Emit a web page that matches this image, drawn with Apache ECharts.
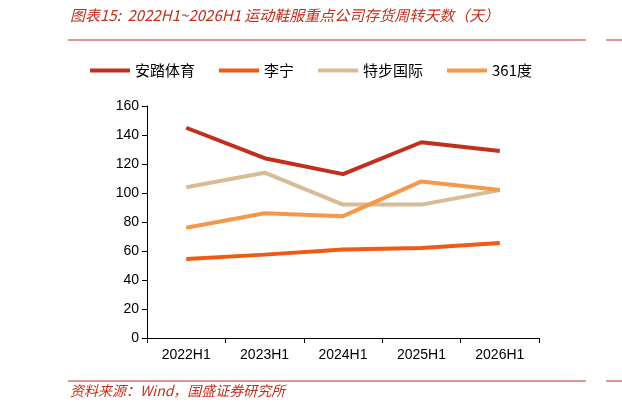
<!DOCTYPE html><html><head><meta charset="utf-8">
<script src="https://cdn.jsdelivr.net/npm/echarts@6/dist/echarts.min.js"></script>
<style>body{margin:0}#c{width:622px;height:413px}</style></head><body><div id="c"></div>
<script>
const categories=['2022H1','2023H1','2024H1','2025H1','2026H1'];
const anta=[145,124,113,135,129];
const lining=[54.5,57.5,61,62,65.5];
const xtep=[104,114,92,92,102];
const s361=[76,86,84,108,102];
const names=['安踏体育','李宁','特步国际','361度'];
const colors=['#C0301C','#F05A14','#D8BC96','#F5984A'];
const data=[anta,lining,xtep,s361];
const ch=echarts.init(document.getElementById('c'));
ch.setOption({
 animation:false,
 graphic:[
  {type:'text',left:70,top:8,style:{text:'图表15:  2022H1~2026H1 运动鞋服重点公司存货周转天数（天）',font:'italic 15px "Noto Sans CJK SC"',fill:'#C0301C'}},
  {type:'line',shape:{x1:68,y1:40,x2:586,y2:40},style:{stroke:'#C0301C',lineWidth:1}},
  {type:'line',shape:{x1:606,y1:40,x2:622,y2:40},style:{stroke:'#C0301C',lineWidth:1}},
  {type:'line',shape:{x1:68,y1:381,x2:586,y2:381},style:{stroke:'#C0301C',lineWidth:1}},
  {type:'line',shape:{x1:606,y1:381,x2:622,y2:381},style:{stroke:'#C0301C',lineWidth:1}},
  {type:'text',left:70,top:384,style:{text:'资料来源：Wind，国盛证券研究所',font:'italic 14px "Noto Sans CJK SC"',fill:'#C0301C'}}
 ],
 legend:{top:58,left:'center',itemWidth:40,itemHeight:4,itemGap:24,icon:'rect',textStyle:{fontSize:15,color:'#000',fontFamily:'Noto Sans CJK SC'},data:names},
 grid:{left:147,right:83,top:106,bottom:75},
 xAxis:{type:'category',data:categories,axisLine:{lineStyle:{color:'#000'}},axisTick:{show:true,lineStyle:{color:'#000'}},axisLabel:{color:'#000',fontSize:14,margin:10}},
 yAxis:{type:'value',min:0,max:160,interval:20,splitLine:{show:false},axisLine:{show:true,lineStyle:{color:'#000'}},axisTick:{show:true,lineStyle:{color:'#000'}},axisLabel:{color:'#000',fontSize:14}},
 series:names.map((n,i)=>({name:n,type:'line',data:data[i],symbol:'none',lineStyle:{width:4,color:colors[i]},itemStyle:{color:colors[i]}}))
});
</script></body></html>
